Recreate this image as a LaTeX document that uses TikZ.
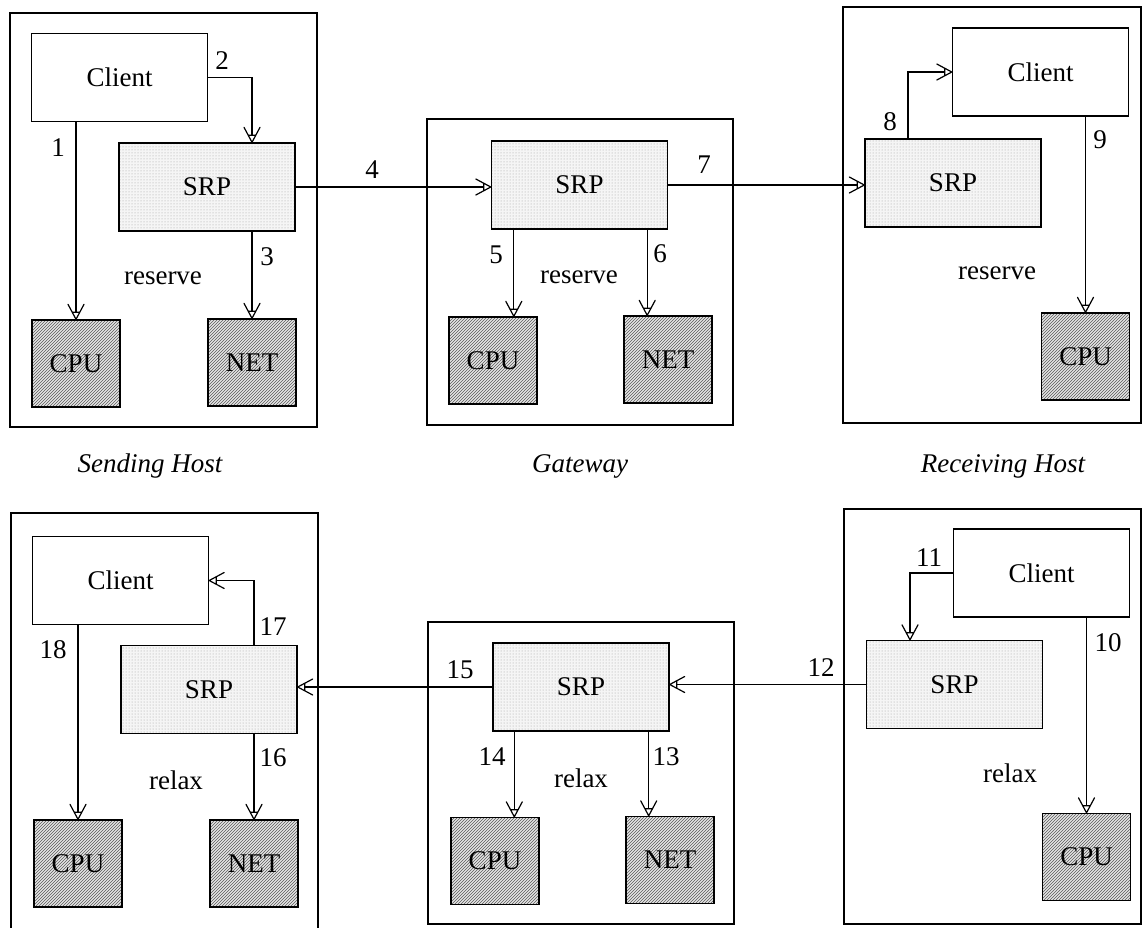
\documentclass[tikz,border=0pt]{standalone}
\usepackage{fontspec}
\setmainfont{Liberation Serif}
\usetikzlibrary{arrows.meta,patterns}
\pgfdeclarearrow{
  name = VTri,
  setup code = {
    \pgfarrowssettipend{0pt}
    \pgfarrowssetlineend{-7pt}
    \pgfarrowssetbackend{-15pt}
    \pgfarrowssetvisualbackend{-15pt}
    \pgfarrowshullpoint{0pt}{0pt}
    \pgfarrowsupperhullpoint{-15pt}{8pt}
  },
  drawing code = {
    \pgfsetroundjoin
    \pgfsetroundcap
    \pgfpathmoveto{\pgfqpoint{-15pt}{8pt}}
    \pgfpathlineto{\pgfqpoint{0pt}{0pt}}
    \pgfpathlineto{\pgfqpoint{-15pt}{-8pt}}
    \pgfpathmoveto{\pgfqpoint{-7pt}{3.73pt}}
    \pgfpathlineto{\pgfqpoint{-7pt}{-3.73pt}}
    \pgfusepathqstroke
  },
  defaults = {}
}
\newcommand\lblfont{\fontsize{27}{32}\selectfont}
\newcommand\capfont{\fontsize{27}{32}\selectfont\itshape}
\tikzset{
  host/.style={draw, line width=2pt},
  boxbase/.style={draw, line width=1.4pt, inner sep=0pt, font=\lblfont},
  client/.style={boxbase, fill=white, minimum width=176pt, minimum height=88pt},
  srp/.style={boxbase, minimum width=176pt, minimum height=88pt,
              preaction={fill=gray!8}, pattern=dots, pattern color=gray!75},
  res/.style={boxbase, minimum width=88pt, minimum height=87pt,
              preaction={fill=gray!20}, pattern=north east lines, pattern color=black!65},
  conn/.style={line width=1.2pt, -VTri},
  lbl/.style={font=\lblfont, inner sep=0pt},
  hostcaption/.style={font=\capfont, inner sep=0pt}
}
\begin{document}
\begin{tikzpicture}[x=1pt, y=-1pt]
\useasboundingbox (0,0) rectangle (1143,927);

% ---------- host frames ----------
\draw[host] (10,13) rectangle (317,427);
\draw[host] (427,119) rectangle (733,425);
\draw[host] (843,7) rectangle (1141,423);
\draw[host] (11,513) rectangle (318,935);
\draw[host] (428,622) rectangle (734,924);
\draw[host] (844,509) rectangle (1141,924);

% ---------- top row: reserve ----------
\node[client] (C1) at (119.5,77.5) {Client};
\node[srp]    (S1) at (207,187) {SRP};
\node[res]    (P1) at (76,363.5) {CPU};
\node[res]    (N1) at (252,362.5) {NET};

\node[srp]    (S2) at (579.5,185) {SRP};
\node[res]    (P2) at (493,360.5) {CPU};
\node[res]    (N2) at (668,359.5) {NET};

\node[client] (C3) at (1040.5,72) {Client};
\node[srp]    (S3) at (953,183) {SRP};
\node[res]    (P3) at (1085.5,356.5) {CPU};

\draw[conn] (P1.north |- C1.south) -- (P1.north);
\draw[conn] (C1.east) -| (S1.north -| N1.north);
\draw[conn] (S1.south -| N1.north) -- (N1.north);
\draw[conn] (S1.east) -- (S1.east -| S2.west);
\coordinate (a5) at ([xshift=23pt]S2.south west);
\coordinate (a6) at ([xshift=-21pt]S2.south east);
\draw[conn] (a5) -- (a5 |- P2.north);
\draw[conn] (a6) -- (a6 |- N2.north);
\draw[conn] (S2.east) -- (S2.east -| S3.west);
\draw[conn] ([xshift=-45pt]S3.north) |- (C3.west);
\draw[conn] (P3.north |- C3.south) -- (P3.north);

\node[lbl] at (58,148) {1};
\node[lbl] at (222,61) {2};
\node[lbl] at (267,257) {3};
\node[lbl] at (163,278) {reserve};
\node[lbl] at (372,170) {4};
\node[lbl] at (496,255) {5};
\node[lbl] at (660,254) {6};
\node[lbl] at (579,277) {reserve};
\node[lbl] at (704,165) {7};
\node[lbl] at (890,122) {8};
\node[lbl] at (1100,140) {9};
\node[lbl] at (997,273) {reserve};

\node[hostcaption] at (150,466) {Sending Host};
\node[hostcaption] at (580,466) {Gateway};
\node[hostcaption] at (1003,466) {Receiving Host};

% ---------- bottom row: relax ----------
\node[client] (C4) at (120.5,580.5) {Client};
\node[srp]    (S4) at (209,689.5) {SRP};
\node[res]    (P4) at (78,863.5) {CPU};
\node[res]    (N4) at (254,863.5) {NET};

\node[srp]    (S5) at (581,687) {SRP};
\node[res]    (P5) at (495,861) {CPU};
\node[res]    (N5) at (670,860) {NET};

\node[client] (C6) at (1041.5,573) {Client};
\node[srp]    (S6) at (954.5,684.5) {SRP};
\node[res]    (P6) at (1086.5,857) {CPU};

\draw[conn] (C6.west) -| ([xshift=-44.5pt]S6.north);
\draw[conn] (P6.north |- C6.south) -- (P6.north);
\draw[conn] (S6.west) -- (S6.west -| S5.east);
\coordinate (a14) at ([xshift=22pt]S5.south west);
\coordinate (a13) at ([xshift=-21pt]S5.south east);
\draw[conn] (a13) -- (a13 |- N5.north);
\draw[conn] (a14) -- (a14 |- P5.north);
\draw[conn] (S5.west) -- (S5.west -| S4.east);
\draw[conn] (S4.south -| N4.north) -- (N4.north);
\draw[conn] (S4.north -| N4.north) |- (C4.east);
\draw[conn] (P4.north |- C4.south) -- (P4.north);

\node[lbl] at (929,558) {11};
\node[lbl] at (1108,643) {10};
\node[lbl] at (821,668) {12};
\node[lbl] at (1010,773) {relax};
\node[lbl] at (666,757) {13};
\node[lbl] at (492,757) {14};
\node[lbl] at (581,778) {relax};
\node[lbl] at (460,670) {15};
\node[lbl] at (273,758) {16};
\node[lbl] at (273,627) {17};
\node[lbl] at (53,650) {18};
\node[lbl] at (176,780) {relax};
\end{tikzpicture}
\end{document}
